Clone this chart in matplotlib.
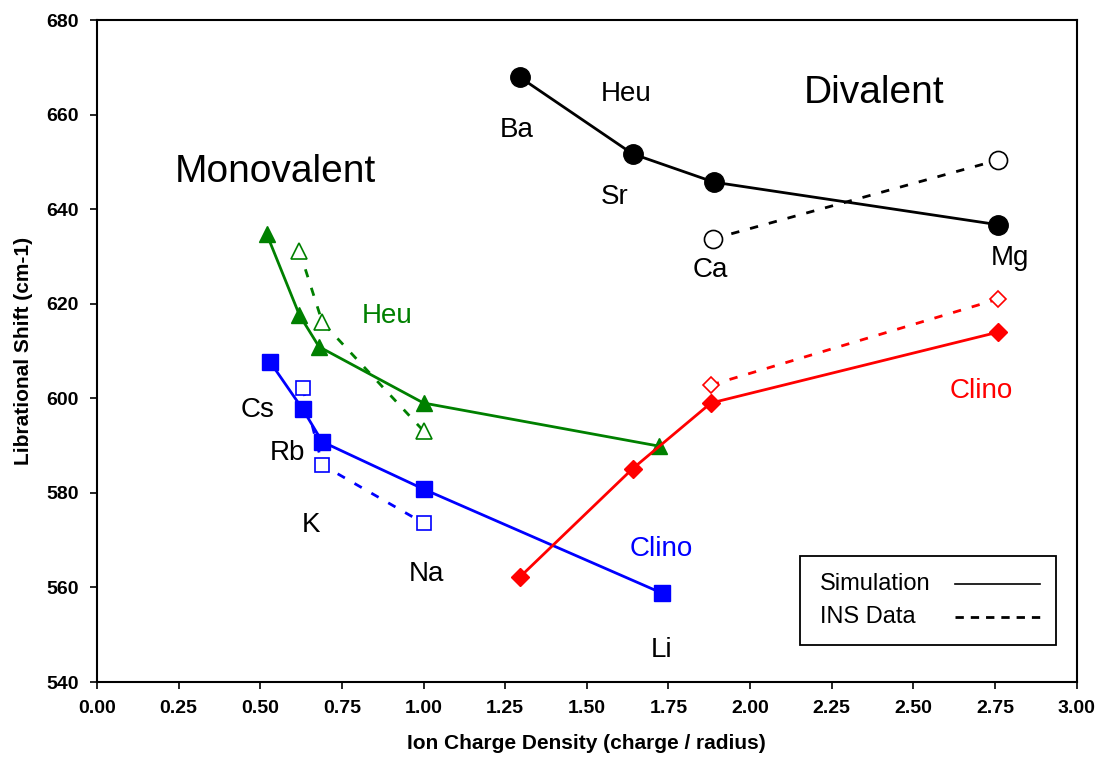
import numpy as np
import matplotlib
matplotlib.use("Agg")
import matplotlib.pyplot as plt
from matplotlib.lines import Line2D
from matplotlib.patches import Rectangle

plt.rcParams["font.family"] = ["Liberation Sans", "DejaVu Sans"]

# monovalent, clinoptilolite (blue squares)
clino_mono_x = [0.53, 0.63, 0.69, 1.00, 1.73]
clino_mono_sim = [607.7, 597.7, 590.8, 580.8, 558.8]
clino_mono_ins_x = [0.63, 0.69, 1.00]
clino_mono_ins = [602.2, 585.9, 573.6]

# monovalent, heulandite (green triangles)
heu_mono_x = [0.52, 0.62, 0.68, 1.00, 1.72]
heu_mono_sim = [634.7, 617.6, 610.9, 599.0, 589.9]
heu_mono_ins_x = [0.62, 0.69, 1.00]
heu_mono_ins = [631.2, 616.1, 593.1]

# divalent, heulandite (black circles)
heu_di_x = [1.295, 1.64, 1.89, 2.76]
heu_di_sim = [667.9, 651.7, 645.7, 636.7]
heu_di_ins_x = [1.885, 2.76]
heu_di_ins = [633.7, 650.4]

# divalent, clinoptilolite (red diamonds)
clino_di_x = [1.295, 1.64, 1.88, 2.76]
clino_di_sim = [562.2, 585.1, 599.0, 614.0]
clino_di_ins_x = [1.88, 2.76]
clino_di_ins = [602.8, 621.0]

ion_labels = ["Cs", "Rb", "K", "Na", "Li", "Ba", "Sr", "Ca", "Mg"]
ion_label_x = [0.493, 0.582, 0.655, 1.010, 1.729, 1.286, 1.586, 1.879, 2.795]
ion_label_y = [597.5, 588.4, 573.2, 562.9, 546.8, 656.7, 642.6, 627.1, 629.7]

legend_labels = ["Simulation", "INS Data"]

fig = plt.figure(figsize=(11.02, 7.61), dpi=100)
ax = fig.add_axes([0.088, 0.1038, 0.889, 0.8699])

dash = (3, 4)
ax.plot(clino_mono_x, clino_mono_sim, color="blue", lw=2, marker="s", ms=11.5)
ax.plot(clino_mono_ins_x, clino_mono_ins, color="blue", lw=2, ls=(0, dash),
        marker="s", ms=9.5, mfc="white", mec="blue", mew=1.2)

ax.plot(heu_mono_x, heu_mono_sim, color="green", lw=2, marker="^", ms=12)
ax.plot(heu_mono_ins_x, heu_mono_ins, color="green", lw=2, ls=(0, dash),
        marker="^", ms=11, mfc="white", mec="green", mew=1.2)

ax.plot(heu_di_x, heu_di_sim, color="black", lw=2, marker="o", ms=14)
ax.plot(heu_di_ins_x, heu_di_ins, color="black", lw=2, ls=(0, dash),
        marker="o", ms=13, mfc="white", mec="black", mew=1.2)

ax.plot(clino_di_x, clino_di_sim, color="red", lw=2, marker="D", ms=9)
ax.plot(clino_di_ins_x, clino_di_ins, color="red", lw=2, ls=(0, dash),
        marker="D", ms=8.5, mfc="white", mec="red", mew=1.2)

for lab, lx, ly in zip(ion_labels, ion_label_x, ion_label_y):
    ax.text(lx, ly, lab, fontsize=20, ha="center", va="center")

ax.text(0.545, 647.9, "Monovalent", fontsize=28, ha="center", va="center")
ax.text(2.381, 664.6, "Divalent", fontsize=28, ha="center", va="center")
ax.text(0.888, 617.4, "Heu", fontsize=20, color="green", ha="center", va="center")
ax.text(1.619, 664.3, "Heu", fontsize=20, ha="center", va="center")
ax.text(1.729, 568.1, "Clino", fontsize=20, color="blue", ha="center", va="center")
ax.text(2.709, 601.5, "Clino", fontsize=20, color="red", ha="center", va="center")

ax.set_xlim(0, 3)
ax.set_ylim(540, 680)
ax.set_xticks(np.arange(0, 3.01, 0.25))
ax.set_xticklabels(["%.2f" % t for t in np.arange(0, 3.01, 0.25)])
ax.set_yticks(np.arange(540, 681, 20))
ax.tick_params(direction="out", length=5, width=1.2, labelsize=14, pad=8)
for lbl in ax.get_xticklabels() + ax.get_yticklabels():
    lbl.set_fontweight("bold")
for sp in ax.spines.values():
    sp.set_linewidth(1.5)

ax.set_xlabel("Ion Charge Density (charge / radius)", fontsize=15,
              fontweight="bold", labelpad=12)
ax.set_ylabel("Librational Shift (cm-1)", fontsize=15, fontweight="bold",
              labelpad=10)

# legend box drawn by hand: labels left-aligned, line samples on the right
ax.add_patch(Rectangle((0.7173, 0.0559), 0.2613, 0.1344, transform=ax.transAxes,
                       fill=True, facecolor="white", edgecolor="black", lw=1.3,
                       zorder=5))
row_y = [0.148, 0.0982]
row_ls = ["-", (0, (3, 2.5))]
row_lw = [1.2, 2]
for lab, ry, ls, lw in zip(legend_labels, row_y, row_ls, row_lw):
    ax.text(0.7378, ry, lab, fontsize=17, ha="left", va="center",
            transform=ax.transAxes, zorder=6)
    ax.add_line(Line2D([0.8755, 0.9622], [ry, ry], color="black", lw=lw, ls=ls,
                       transform=ax.transAxes, zorder=6))

fig.savefig("out.png", dpi=100)
